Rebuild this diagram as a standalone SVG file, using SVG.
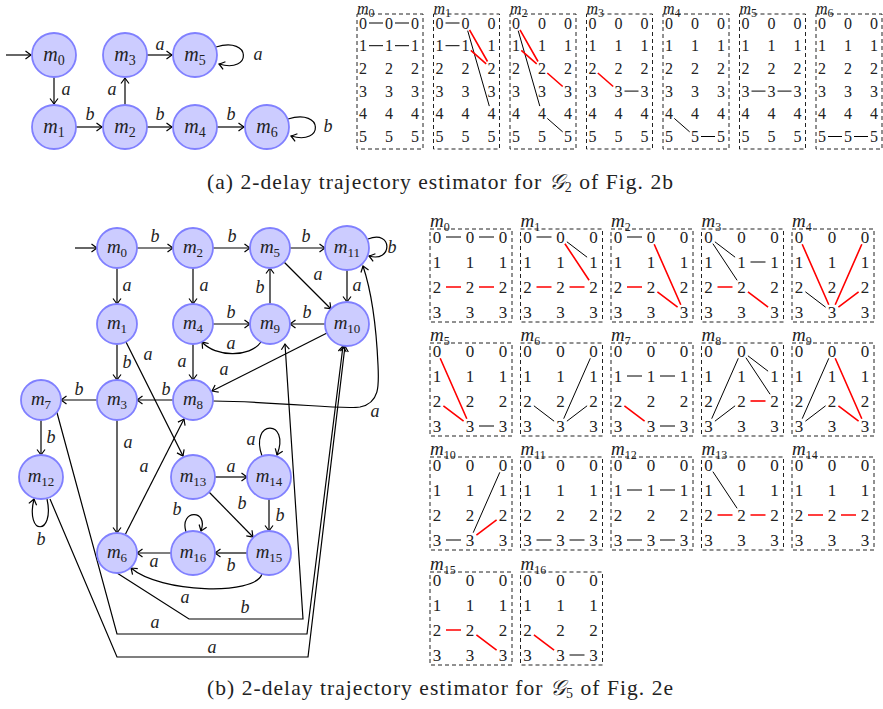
<svg xmlns="http://www.w3.org/2000/svg" xmlns:xlink="http://www.w3.org/1999/xlink" width="883" height="709" viewBox="0 0 883 709">
<style>
.nd circle{fill:#ccccff;stroke:#8080ff;stroke-width:1.8}
.nl{font-family:"Liberation Serif",serif;font-style:italic;font-size:20px;text-anchor:middle;fill:#222}
.nl tspan{font-style:normal;font-size:14px}
.el{font-family:"Liberation Serif",serif;font-style:italic;font-size:18px;text-anchor:middle;fill:#222}
.ed path{fill:none;stroke:#000;stroke-width:1.2;marker-end:url(#ah)}
.box{fill:none;stroke:#222;stroke-width:1;stroke-dasharray:4 3}
.dg{font-family:"Liberation Serif",serif;font-size:16px;text-anchor:middle;fill:#222}
.dg2{font-family:"Liberation Serif",serif;font-size:17px;text-anchor:middle;fill:#222}
.mk{font-family:"Liberation Serif",serif;font-style:italic;font-size:19px;fill:#222}
.mk tspan{font-style:normal;font-size:12px}
.mt{font-size:16px}
.k{fill:none;stroke:#000;stroke-width:1}
.r{fill:none;stroke:#f00;stroke-width:1.6}
.cap{font-family:"Liberation Serif",serif;font-size:21.5px;text-anchor:middle;fill:#222}
.cap tspan.s{font-size:14px}
</style>
<defs>
<marker id="ah" viewBox="-7 -5 9 10" refX="0" refY="0" markerWidth="9" markerHeight="10" orient="auto" markerUnits="userSpaceOnUse">
<path d="M-5.5,-4 Q-1.5,-1 0,0 Q-1.5,1 -5.5,4" fill="none" stroke="#000" stroke-width="1.2"/>
</marker>
<g id="g6" class="dg">
<text x="6 32 58" y="14.5">000</text>
<text x="6 32 58" y="37.2">111</text>
<text x="6 32 58" y="59.9">222</text>
<text x="6 32 58" y="82.5">333</text>
<text x="6 32 58" y="105.3">444</text>
<text x="6 32 58" y="128">555</text>
</g>
<g id="g4" class="dg2">
<text x="7 40 73" y="14">000</text>
<text x="7 40 73" y="39">111</text>
<text x="7 40 73" y="64">222</text>
<text x="7 40 73" y="89">333</text>
</g>
</defs>
<rect width="883" height="709" fill="#fff"/>

<!-- ===== Top graph ===== -->
<g id="a-edges" class="ed">
<path d="M6,55H31"/>
<path d="M54,77V104"/>
<path d="M76,127H102"/>
<path d="M125,105V78"/>
<path d="M147,55H172"/>
<path d="M147,127H172"/>
<path d="M217,127H244"/>
<path d="M216,47C252,36 252,74 219,64"/>
<path d="M288,119C324,108 324,146 291,136"/>
</g>
<g id="a-edge-labels" class="el">
<text x="66" y="95">a</text>
<text x="90" y="120">b</text>
<text x="112" y="95">a</text>
<text x="160" y="50">a</text>
<text x="258" y="60">a</text>
<text x="160" y="120">b</text>
<text x="231" y="120">b</text>
<text x="328" y="132">b</text>
</g>
<g id="a-m0" class="nd"><circle cx="54" cy="55" r="22"/><text class="nl" x="54" y="61">m<tspan dy="4">0</tspan></text></g>
<g id="a-m1" class="nd"><circle cx="54" cy="127" r="22"/><text class="nl" x="54" y="133">m<tspan dy="4">1</tspan></text></g>
<g id="a-m2" class="nd"><circle cx="125" cy="127" r="22"/><text class="nl" x="125" y="133">m<tspan dy="4">2</tspan></text></g>
<g id="a-m3" class="nd"><circle cx="125" cy="55" r="22"/><text class="nl" x="125" y="61">m<tspan dy="4">3</tspan></text></g>
<g id="a-m4" class="nd"><circle cx="195" cy="127" r="22"/><text class="nl" x="195" y="133">m<tspan dy="4">4</tspan></text></g>
<g id="a-m5" class="nd"><circle cx="195" cy="55" r="22"/><text class="nl" x="195" y="61">m<tspan dy="4">5</tspan></text></g>
<g id="a-m6" class="nd"><circle cx="267" cy="127" r="22"/><text class="nl" x="267" y="133">m<tspan dy="4">6</tspan></text></g>

<!-- ===== Top matrices ===== -->
<g id="ta-m0" transform="translate(357,14)"><rect class="box" width="66" height="135"/><use href="#g6"/><text class="mk mt" x="0" y="0">m<tspan dy="3">0</tspan></text>
<path class="k" d="M12,9H26M38,9H52M12,31.7H26M38,31.7H52"/></g>
<g id="ta-m1" transform="translate(433.5,14)"><rect class="box" width="66" height="135"/><use href="#g6"/><text class="mk mt" x="0" y="0">m<tspan dy="3">1</tspan></text>
<path class="k" d="M12,9H26M12,31.7H26M34.2,16.7L55.8,92.1"/><path class="r" d="M36,15.9L54,47.5M37.3,36.3L52.7,49.8"/></g>
<g id="ta-m2" transform="translate(510,14)"><rect class="box" width="66" height="135"/><use href="#g6"/><text class="mk mt" x="0" y="0">m<tspan dy="3">2</tspan></text>
<path class="k" d="M8.2,16.7L29.8,92.1M37.3,104.4L52.7,117.9"/><path class="r" d="M10,15.9L28,47.5M11.3,36.3L26.7,49.8M37.3,59L52.7,72.5"/></g>
<g id="ta-m3" transform="translate(586.5,14)"><rect class="box" width="66" height="135"/><use href="#g6"/><text class="mk mt" x="0" y="0">m<tspan dy="3">3</tspan></text>
<path class="k" d="M38,77.1H52"/><path class="r" d="M11.3,59L26.7,72.5"/></g>
<g id="ta-m4" transform="translate(663,14)"><rect class="box" width="66" height="135"/><use href="#g6"/><text class="mk mt" x="0" y="0">m<tspan dy="3">4</tspan></text>
<path class="k" d="M11.3,104.4L26.7,117.9M38,122.5H52"/></g>
<g id="ta-m5" transform="translate(739.5,14)"><rect class="box" width="66" height="135"/><use href="#g6"/><text class="mk mt" x="0" y="0">m<tspan dy="3">5</tspan></text>
<path class="k" d="M12,77.1H26M38,77.1H52"/></g>
<g id="ta-m6" transform="translate(816,14)"><rect class="box" width="66" height="135"/><use href="#g6"/><text class="mk mt" x="0" y="0">m<tspan dy="3">6</tspan></text>
<path class="k" d="M12,122.5H26M38,122.5H52"/></g>

<text class="cap" x="440" y="189" textLength="466" lengthAdjust="spacing">(a) 2-delay trajectory estimator for <tspan font-style="italic">𝒢</tspan><tspan class="s" dy="3">2</tspan><tspan dy="-3"> of Fig. 2b</tspan></text>

<!-- ===== Bottom graph ===== -->
<g id="b-edges" class="ed">
<path d="M75,248H97"/>
<path d="M137,248H173"/>
<path d="M213,248H250"/>
<path d="M290,248H325"/>
<path d="M368,239C393,229 393,263 369,256"/>
<path d="M117,268V304"/>
<path d="M193,268V304"/>
<path d="M270,304V268"/>
<path d="M284,262L331,309"/>
<path d="M347,270V302"/>
<path d="M213,324H250"/>
<path d="M325,324H290"/>
<path d="M261,342C250,358 215,357 202,342"/>
<path d="M117,344V380"/>
<path d="M193,344V380"/>
<path d="M327,333L212,391"/>
<path d="M126,342L183,456"/>
<path d="M173,400H137"/>
<path d="M97,400H61"/>
<path d="M213,401C290,402 340,410 360,407C380,403 379,385 378,365C376,320 371,290 363,266"/>
<path d="M41,420V455"/>
<path d="M47,499C55,536 25,536 34,499"/>
<path d="M117,420V533"/>
<path d="M125,535L184,419"/>
<path d="M215,477H247"/>
<path d="M262,456C249,419 291,419 277,455"/>
<path d="M209,492L253,537"/>
<path d="M269,499V531"/>
<path d="M186,532C179,509 209,509 201,531"/>
<path d="M171,553H137"/>
<path d="M247,553H215"/>
<path d="M262,574C255,596 160,593 131,568"/>
<path d="M117,573L189,619H303L285,344"/>
<path d="M56,409L117,634H307L343,346"/>
<path d="M50,499L117,657H308L345,346"/>
</g>
<g id="b-edge-labels" class="el">
<text x="155" y="242">b</text>
<text x="232" y="242">b</text>
<text x="306" y="242">b</text>
<text x="392" y="253">b</text>
<text x="127" y="291">a</text>
<text x="204" y="291">a</text>
<text x="260" y="293">b</text>
<text x="318" y="280">a</text>
<text x="357" y="291">a</text>
<text x="231" y="318">b</text>
<text x="307" y="318">b</text>
<text x="231" y="349">a</text>
<text x="127" y="368">b</text>
<text x="148" y="360">a</text>
<text x="182" y="367">a</text>
<text x="224" y="375">a</text>
<text x="166" y="395">b</text>
<text x="79" y="395">b</text>
<text x="375" y="417">a</text>
<text x="51" y="443">b</text>
<text x="41" y="545">b</text>
<text x="128" y="448">a</text>
<text x="144" y="472">a</text>
<text x="231" y="472">a</text>
<text x="251" y="445">a</text>
<text x="242" y="509">b</text>
<text x="280" y="521">b</text>
<text x="177" y="515">b</text>
<text x="154" y="567">a</text>
<text x="231" y="571">b</text>
<text x="185" y="603">a</text>
<text x="245" y="613">b</text>
<text x="155" y="628">a</text>
<text x="212" y="653">a</text>
</g>
<g id="b-m0" class="nd"><circle cx="117" cy="248" r="20"/><text class="nl" x="117" y="253" style="font-size:19px">m<tspan dy="4" style="font-size:13px">0</tspan></text></g>
<g id="b-m1" class="nd"><circle cx="117" cy="324" r="20"/><text class="nl" x="117" y="329" style="font-size:19px">m<tspan dy="4" style="font-size:13px">1</tspan></text></g>
<g id="b-m2" class="nd"><circle cx="193" cy="248" r="20"/><text class="nl" x="193" y="253" style="font-size:19px">m<tspan dy="4" style="font-size:13px">2</tspan></text></g>
<g id="b-m3" class="nd"><circle cx="117" cy="400" r="20"/><text class="nl" x="117" y="405" style="font-size:19px">m<tspan dy="4" style="font-size:13px">3</tspan></text></g>
<g id="b-m4" class="nd"><circle cx="193" cy="324" r="20"/><text class="nl" x="193" y="329" style="font-size:19px">m<tspan dy="4" style="font-size:13px">4</tspan></text></g>
<g id="b-m5" class="nd"><circle cx="270" cy="248" r="20"/><text class="nl" x="270" y="253" style="font-size:19px">m<tspan dy="4" style="font-size:13px">5</tspan></text></g>
<g id="b-m6" class="nd"><circle cx="117" cy="553" r="20"/><text class="nl" x="117" y="558" style="font-size:19px">m<tspan dy="4" style="font-size:13px">6</tspan></text></g>
<g id="b-m7" class="nd"><circle cx="41" cy="400" r="20"/><text class="nl" x="41" y="405" style="font-size:19px">m<tspan dy="4" style="font-size:13px">7</tspan></text></g>
<g id="b-m8" class="nd"><circle cx="193" cy="400" r="20"/><text class="nl" x="193" y="405" style="font-size:19px">m<tspan dy="4" style="font-size:13px">8</tspan></text></g>
<g id="b-m9" class="nd"><circle cx="270" cy="324" r="20"/><text class="nl" x="270" y="329" style="font-size:19px">m<tspan dy="4" style="font-size:13px">9</tspan></text></g>
<g id="b-m10" class="nd"><circle cx="347" cy="324" r="22"/><text class="nl" x="347" y="329" style="font-size:19px">m<tspan dy="4" style="font-size:13px">10</tspan></text></g>
<g id="b-m11" class="nd"><circle cx="347" cy="248" r="22"/><text class="nl" x="347" y="253" style="font-size:19px">m<tspan dy="4" style="font-size:13px">11</tspan></text></g>
<g id="b-m12" class="nd"><circle cx="41" cy="477" r="22"/><text class="nl" x="41" y="482" style="font-size:19px">m<tspan dy="4" style="font-size:13px">12</tspan></text></g>
<g id="b-m13" class="nd"><circle cx="193" cy="477" r="22"/><text class="nl" x="193" y="482" style="font-size:19px">m<tspan dy="4" style="font-size:13px">13</tspan></text></g>
<g id="b-m14" class="nd"><circle cx="269" cy="477" r="22"/><text class="nl" x="269" y="482" style="font-size:19px">m<tspan dy="4" style="font-size:13px">14</tspan></text></g>
<g id="b-m15" class="nd"><circle cx="269" cy="553" r="22"/><text class="nl" x="269" y="558" style="font-size:19px">m<tspan dy="4" style="font-size:13px">15</tspan></text></g>
<g id="b-m16" class="nd"><circle cx="193" cy="553" r="22"/><text class="nl" x="193" y="558" style="font-size:19px">m<tspan dy="4" style="font-size:13px">16</tspan></text></g>

<!-- ===== Bottom matrices ===== -->
<g id="tb-m0" transform="translate(430,229)"><rect class="box" width="82" height="93"/><use href="#g4"/><text class="mk" x="0" y="-2">m<tspan dy="4">0</tspan></text>
<path class="k" d="M16,8H31M49,8H64"/><path class="r" d="M16,58H31M49,58H64"/></g>
<g id="tb-m1" transform="translate(520.5,229)"><rect class="box" width="82" height="93"/><use href="#g4"/><text class="mk" x="0" y="-2">m<tspan dy="4">1</tspan></text>
<path class="k" d="M16,8H31M46.4,12.8L66.6,28.2"/><path class="r" d="M44.4,14.7L68.6,51.3M16,58H31M49,58H64"/></g>
<g id="tb-m2" transform="translate(611,229)"><rect class="box" width="82" height="93"/><use href="#g4"/><text class="mk" x="0" y="-2">m<tspan dy="4">2</tspan></text>
<path class="k" d="M16,8H31"/><path class="r" d="M43.2,15.3L69.8,75.7M16,58H31M46.4,62.8L66.6,78.2"/></g>
<g id="tb-m3" transform="translate(701.5,229)"><rect class="box" width="82" height="93"/><use href="#g4"/><text class="mk" x="0" y="-2">m<tspan dy="4">3</tspan></text>
<path class="k" d="M13.4,12.8L33.6,28.2M11.4,14.7L35.6,51.3M49,33H64"/><path class="r" d="M16,58H31M46.4,62.8L66.6,78.2"/></g>
<g id="tb-m4" transform="translate(792,229)"><rect class="box" width="82" height="93"/><use href="#g4"/><text class="mk" x="0" y="-2">m<tspan dy="4">4</tspan></text>
<path class="k" d="M13.4,62.8L33.6,78.2"/><path class="r" d="M10.2,15.3L36.8,75.7M69.8,15.3L43.2,75.7M66.6,62.8L46.4,78.2"/></g>

<g id="tb-m5" transform="translate(430,343)"><rect class="box" width="82" height="93"/><use href="#g4"/><text class="mk" x="0" y="-2">m<tspan dy="4">5</tspan></text>
<path class="k" d="M49,83H64"/><path class="r" d="M10.2,15.3L36.8,75.7M13.4,62.8L33.6,78.2"/></g>
<g id="tb-m6" transform="translate(520.5,343)"><rect class="box" width="82" height="93"/><use href="#g4"/><text class="mk" x="0" y="-2">m<tspan dy="4">6</tspan></text>
<path class="k" d="M13.4,62.8L33.6,78.2M69.8,15.3L43.2,75.7M66.6,62.8L46.4,78.2"/></g>
<g id="tb-m7" transform="translate(611,343)"><rect class="box" width="82" height="93"/><use href="#g4"/><text class="mk" x="0" y="-2">m<tspan dy="4">7</tspan></text>
<path class="k" d="M16,33H31M49,33H64M49,83H64"/><path class="r" d="M13.4,62.8L33.6,78.2"/></g>
<g id="tb-m8" transform="translate(701.5,343)"><rect class="box" width="82" height="93"/><use href="#g4"/><text class="mk" x="0" y="-2">m<tspan dy="4">8</tspan></text>
<path class="k" d="M36.8,15.3L10.2,75.7M46.4,12.8L66.6,28.2M44.4,14.7L68.6,51.3M33.6,62.8L13.4,78.2"/><path class="r" d="M49,58H64"/></g>
<g id="tb-m9" transform="translate(792,343)"><rect class="box" width="82" height="93"/><use href="#g4"/><text class="mk" x="0" y="-2">m<tspan dy="4">9</tspan></text>
<path class="k" d="M36.8,15.3L10.2,75.7M33.6,62.8L13.4,78.2"/><path class="r" d="M43.2,15.3L69.8,75.7M46.4,62.8L66.6,78.2"/></g>

<g id="tb-m10" transform="translate(430,457)"><rect class="box" width="82" height="93"/><use href="#g4"/><text class="mk" x="0" y="-2">m<tspan dy="4">10</tspan></text>
<path class="k" d="M16,83H31M69.8,15.3L43.2,75.7"/><path class="r" d="M46.4,78.2L66.6,62.8"/></g>
<g id="tb-m11" transform="translate(520.5,457)"><rect class="box" width="82" height="93"/><use href="#g4"/><text class="mk" x="0" y="-2">m<tspan dy="4">11</tspan></text>
<path class="k" d="M16,83H31M49,83H64"/></g>
<g id="tb-m12" transform="translate(611,457)"><rect class="box" width="82" height="93"/><use href="#g4"/><text class="mk" x="0" y="-2">m<tspan dy="4">12</tspan></text>
<path class="k" d="M16,33H31M49,33H64M16,83H31M49,83H64"/></g>
<g id="tb-m13" transform="translate(701.5,457)"><rect class="box" width="82" height="93"/><use href="#g4"/><text class="mk" x="0" y="-2">m<tspan dy="4">13</tspan></text>
<path class="k" d="M11.4,14.7L35.6,51.3"/><path class="r" d="M16,58H31M49,58H64"/></g>
<g id="tb-m14" transform="translate(792,457)"><rect class="box" width="82" height="93"/><use href="#g4"/><text class="mk" x="0" y="-2">m<tspan dy="4">14</tspan></text>
<path class="r" d="M16,58H31M49,58H64"/></g>

<g id="tb-m15" transform="translate(430,572)"><rect class="box" width="82" height="93"/><use href="#g4"/><text class="mk" x="0" y="-2">m<tspan dy="4">15</tspan></text>
<path class="r" d="M16,58H31M46.4,62.8L66.6,78.2"/></g>
<g id="tb-m16" transform="translate(520.5,572)"><rect class="box" width="82" height="93"/><use href="#g4"/><text class="mk" x="0" y="-2">m<tspan dy="4">16</tspan></text>
<path class="k" d="M49,83H64"/><path class="r" d="M13.4,62.8L33.6,78.2"/></g>

<text class="cap" x="440" y="695" textLength="466" lengthAdjust="spacing">(b) 2-delay trajectory estimator for <tspan font-style="italic">𝒢</tspan><tspan class="s" dy="3">5</tspan><tspan dy="-3"> of Fig. 2e</tspan></text>
</svg>
